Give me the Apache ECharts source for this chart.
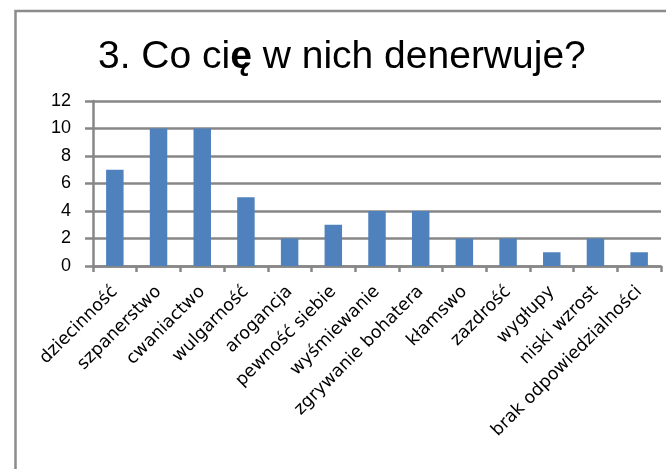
<!DOCTYPE html>
<html>
<head>
<meta charset="utf-8">
<script src="https://cdn.jsdelivr.net/npm/echarts@6/dist/echarts.min.js"></script>
<style>
  html, body { margin: 0; padding: 0; background: #fff; }
  #chart { width: 666px; height: 469px; }
</style>
</head>
<body>
<div id="chart"></div>
<script>
// dane z wykresu
var categories = ['dziecinność', 'szpanerstwo', 'cwaniactwo', 'wulgarność', 'arogancja',
    'pewność siebie', 'wyśmiewanie', 'zgrywanie bohatera', 'kłamswo', 'zazdrość',
    'wygłupy', 'niski wzrost', 'brak odpowiedzialności'];
var counts = [7, 10, 10, 5, 2, 3, 4, 4, 2, 2, 1, 2, 1];
var yTicks = [0, 2, 4, 6, 8, 10, 12];

(function () {
    var chart = echarts.init(document.getElementById('chart'));
    var gray = '#878787';

    var option = {
        animation: false,
        title: {
            text: '3. Co ci{b|ę} w nich denerwuje?',
            left: 93,
            top: 33,
            textStyle: {
                fontFamily: 'Liberation Sans',
                fontSize: 39,
                fontWeight: 'normal',
                color: '#000',
                rich: {
                    b: { fontFamily: 'Liberation Sans', fontSize: 39, fontWeight: 'bold', color: '#000' }
                }
            }
        },
        graphic: [{
            type: 'rect',
            shape: { x: 15.5, y: 11, width: 720, height: 520 },
            style: { fill: 'none', stroke: '#8c8c8c', lineWidth: 2.5 }
        }],
        grid: { left: 93, right: 5, top: 101, bottom: 203 },
        xAxis: {
            type: 'category',
            data: categories,
            axisLine: { lineStyle: { color: gray, width: 2.5 } },
            axisTick: { show: true, length: 6, interval: 0, lineStyle: { color: gray, width: 2.5 } },
            axisLabel: {
                interval: 0,
                rotate: 45,
                margin: 23,
                fontFamily: 'DejaVu Sans',
                fontSize: 17.5,
                color: '#000'
            }
        },
        yAxis: {
            type: 'value',
            min: yTicks[0],
            max: yTicks[yTicks.length - 1],
            interval: 2,
            axisLine: { show: true, lineStyle: { color: gray, width: 2.5 } },
            axisTick: { show: true, length: 8, lineStyle: { color: gray, width: 2.5 } },
            splitLine: { lineStyle: { color: gray, width: 2.5 } },
            axisLabel: {
                margin: 22,
                fontFamily: 'Liberation Sans',
                fontSize: 18,
                color: '#000'
            }
        },
        series: [{
            type: 'bar',
            data: counts,
            barWidth: '40%',
            itemStyle: { color: '#4F81BD' }
        }]
    };

    chart.setOption(option);
    window.addEventListener('resize', function () {
        chart.resize();
    });
})();
</script>
</body>
</html>
